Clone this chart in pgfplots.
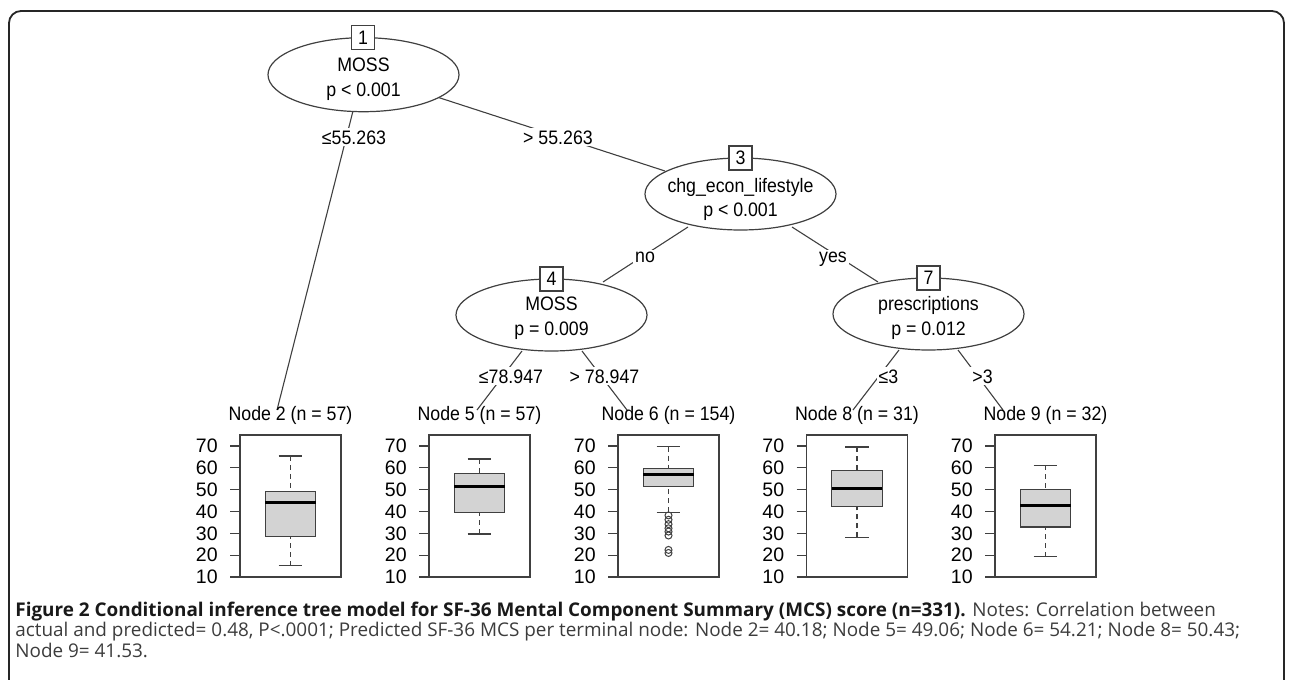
\documentclass[border=0pt]{standalone}
\usepackage{pgfplots}
\pgfplotsset{compat=1.18}
\usepgfplotslibrary{statistics}
\usepackage{fontspec}
\setmainfont{Open Sans}
\newfontfamily\rfont[FakeStretch=0.91]{Liberation Sans}
\newfontfamily\tfont{Liberation Sans}
\newcommand\treefont{\rfont\fontsize{9.75}{11}\selectfont}
\newcommand\capfont{\fontsize{9.45}{10}\selectfont}

\definecolor{boxgray}{RGB}{211,211,211}
\definecolor{ink}{RGB}{64,64,64}
\definecolor{captxt}{RGB}{60,60,60}

\pgfplotsset{
  panel/.style={
    scale only axis, width=50.5pt, height=71pt,
    anchor=south west,
    xmin=0, xmax=2, ymin=10, ymax=75,
    xtick=\empty, ytick={10,20,...,70},
    ytick pos=left, tick align=outside,
    major tick length=5pt,
    axis line style={ink, line width=0.6pt},
    every tick/.style={ink, line width=0.6pt},
    /pgf/number format/assume math mode=true,
    yticklabel style={font=\tfont\fontsize{9.75}{10}\selectfont, inner sep=0pt, xshift=-6pt},
    title style={font=\treefont, at={(0.5,1)}, anchor=base, inner sep=0pt, yshift=1.5pt},
    clip=false,
    boxplot/draw direction=y,
  },
  mybox/.style={
    boxplot prepared={draw position=1, box extend=1, whisker extend=0.47, #1},
    mark=o, mark size=1.75pt, mark options={ink, line width=0.5pt, solid},
    boxplot/every box/.style={draw=ink, fill=boxgray, line width=0.6pt},
    boxplot/every median/.style={black, line width=1.5pt},
    boxplot/draw/lower whisker/.code={%
      \draw[ink, line width=0.6pt, dash pattern=on 2.5pt off 2pt]
        (boxplot cs:\pgfplotsboxplotvalue{lower whisker},0) --
        (boxplot cs:\pgfplotsboxplotvalue{lower quartile},0);
      \draw[ink, line width=0.6pt]
        (boxplot whisker cs:\pgfplotsboxplotvalue{lower whisker},0) --
        (boxplot whisker cs:\pgfplotsboxplotvalue{lower whisker},1);
    },
    boxplot/draw/upper whisker/.code={%
      \draw[ink, line width=0.6pt, dash pattern=on 2.5pt off 2pt]
        (boxplot cs:\pgfplotsboxplotvalue{upper whisker},0) --
        (boxplot cs:\pgfplotsboxplotvalue{upper quartile},0);
      \draw[ink, line width=0.6pt]
        (boxplot whisker cs:\pgfplotsboxplotvalue{upper whisker},0) --
        (boxplot whisker cs:\pgfplotsboxplotvalue{upper whisker},1);
    },
  },
}

\tikzset{
  ell/.style={draw=ink, fill=white, line width=0.6pt},
  num/.style={draw=ink, fill=white, line width=0.6pt, minimum width=11.5pt,
    minimum height=12pt, inner sep=0pt, font=\treefont},
  lab/.style={fill=white, inner sep=1pt, anchor=base, font=\treefont},
  txt/.style={inner sep=0pt, anchor=base, font=\treefont},
  edge/.style={ink, line width=0.55pt},
  captext/.style={inner sep=0pt, anchor=base west, font=\capfont, text=captxt},
}

\begin{document}
\begin{tikzpicture}
\useasboundingbox (0,0) rectangle (646pt,-340pt);

% frame and tree, in pixel units (y down)
\begin{scope}[x=0.5pt, y=-0.5pt]
  \begin{scope}
    \clip (0,0) rectangle (1292,680);
    \draw[black!85, line width=0.9pt, rounded corners=6pt] (9,11) rectangle (1284,720);
  \end{scope}

  % edges
  \draw[edge] (353,111) -- (277,410);
  \draw[edge] (437,97) -- (665,171);
  \draw[edge] (688,227) -- (603,282);
  \draw[edge] (792,227) -- (878,282);
  \draw[edge] (522,351) -- (477,410);
  \draw[edge] (582,351) -- (627,410);
  \draw[edge] (899,350) -- (853,410);
  \draw[edge] (958,350) -- (1003,410);

  % inner nodes
  \draw[ell] (363.5,74.7) ellipse [x radius=47.75pt, y radius=18.5pt];
  \node[num] at (363,37.5) {1};
  \node[txt] at (363.5,71.5) {MOSS};
  \node[txt] at (363.5,96) {p < 0.001};

  \draw[ell] (740.5,194) ellipse [x radius=47.75pt, y radius=18pt];
  \node[num] at (740.5,158) {3};
  \node[txt] at (740.5,192.5) {chg\_econ\_lifestyle};
  \node[txt] at (740.5,216) {p < 0.001};

  \draw[ell] (551.5,315) ellipse [x radius=47.75pt, y radius=18pt];
  \node[num] at (551.5,279) {4};
  \node[txt] at (551.5,310.5) {MOSS};
  \node[txt] at (551.5,335) {p = 0.009};

  \draw[ell] (928.5,314) ellipse [x radius=47.75pt, y radius=18pt];
  \node[num] at (928.5,278) {7};
  \node[txt] at (928.5,310.5) {prescriptions};
  \node[txt] at (928.5,335) {p = 0.012};

  % edge labels
  \node[lab] at (354,144) {≤55.263};
  \node[lab] at (558,144) {> 55.263};
  \node[lab] at (645,262.5) {no};
  \node[lab] at (833,262.5) {yes};
  \node[lab] at (511,383) {≤78.947};
  \node[lab] at (604.5,383) {> 78.947};
  \node[lab] at (888.5,383) {≤3};
  \node[lab] at (982.5,383) {>3};

  % caption
  \node[captext] at (15,616) {\textbf{\color{black!90}Figure 2 Conditional inference tree model for SF-36 Mental Component Summary (MCS) score (n=331).} Notes: Correlation between};
  \node[captext] at (15,636.5) {actual and predicted= 0.48, P<.0001; Predicted SF-36 MCS per terminal node: Node 2= 40.18; Node 5= 49.06; Node 6= 54.21; Node 8= 50.43;};
  \node[captext] at (15,657) {Node 9= 41.53.};
\end{scope}

% terminal nodes
\begin{axis}[panel, at={(120pt,-288.5pt)}, title={Node 2 (n = 57)}]
  \addplot[mybox={lower whisker=15.2, lower quartile=28.6, median=44.2,
    upper quartile=49.1, upper whisker=65.4}] coordinates {};
\end{axis}

\begin{axis}[panel, at={(214.5pt,-288.5pt)}, title={Node 5 (n = 57)}]
  \addplot[mybox={lower whisker=29.7, lower quartile=39.6, median=51.5,
    upper quartile=57.2, upper whisker=64.0}] coordinates {};
\end{axis}

\begin{axis}[panel, at={(309pt,-288.5pt)}, title={Node 6 (n = 154)}]
  \addplot[mybox={lower whisker=39.7, lower quartile=51.5, median=57.0,
    upper quartile=59.5, upper whisker=69.7}]
    table[row sep=\\, y index=0, header=false] {38.2\\ 36.2\\ 34.2\\ 32.3\\ 30.8\\ 29.0\\ 22.4\\ 21.0\\};
\end{axis}

\begin{axis}[panel, at={(403.25pt,-288.5pt)}, title={Node 8 (n = 31)}]
  \addplot[mybox={lower whisker=28.1, lower quartile=42.1, median=50.6,
    upper quartile=58.6, upper whisker=69.5}] coordinates {};
\end{axis}

\begin{axis}[panel, at={(497.5pt,-288.5pt)}, title={Node 9 (n = 32)}]
  \addplot[mybox={lower whisker=19.3, lower quartile=32.9, median=42.9,
    upper quartile=50.2, upper whisker=61.2}] coordinates {};
\end{axis}
\end{tikzpicture}
\end{document}
